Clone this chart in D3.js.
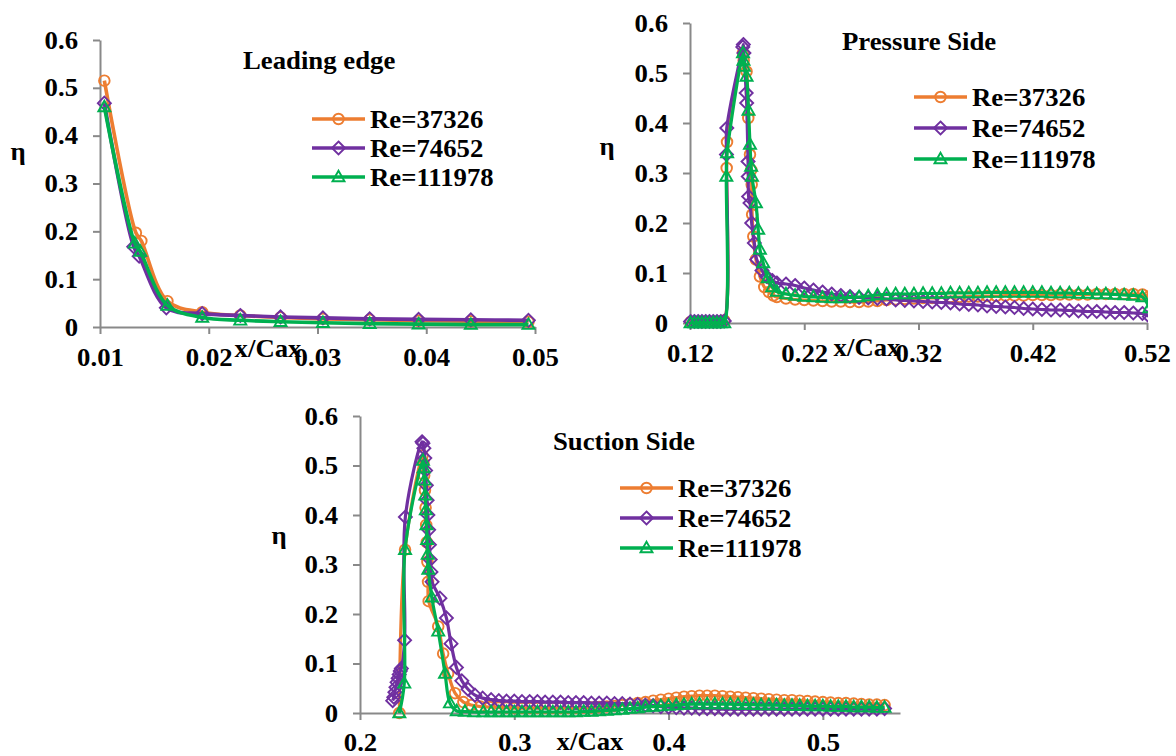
<!DOCTYPE html>
<html>
<head>
<meta charset="utf-8">
<script src="https://cdn.jsdelivr.net/npm/d3@7"></script>
<style>
  html, body { margin: 0; padding: 0; background: #fff; }
  svg { display: block; }
  svg text {
    font-family: "Liberation Serif", "Tinos", "Times New Roman", Times, "DejaVu Serif", serif;
    font-weight: bold;
    font-size: 25px;
  }
</style>
</head>
<body>
<svg id="fig" width="1176" height="756"></svg>
<script>
// ---------------- data ----------------
const seriesNames = ["Re=37326", "Re=74652", "Re=111978"];

const etaTicks = [0, 0.1, 0.2, 0.3, 0.4, 0.5, 0.6];
const etaTickText = ["0", "0.1", "0.2", "0.3", "0.4", "0.5", "0.6"];

// Leading edge
const leTicks = [0.01, 0.02, 0.03, 0.04, 0.05];
const leTickText = ["0.01", "0.02", "0.03", "0.04", "0.05"];
const leX37326  = [0.0104, 0.0133, 0.0138, 0.0162, 0.0194, 0.0229, 0.0266, 0.0305, 0.0348, 0.0393, 0.0441, 0.0494];
const leY37326  = [0.515, 0.197, 0.180, 0.054, 0.031, 0.024, 0.020, 0.017, 0.015, 0.013, 0.012, 0.011];
const leX74652  = [0.0104, 0.0131, 0.0136, 0.0161, 0.0194, 0.0229, 0.0266, 0.0305, 0.0348, 0.0393, 0.0441, 0.0494];
const leY74652  = [0.468, 0.168, 0.148, 0.040, 0.028, 0.024, 0.021, 0.019, 0.017, 0.016, 0.015, 0.014];
const leX111978 = [0.0104, 0.0132, 0.0137, 0.0162, 0.0194, 0.0229, 0.0266, 0.0305, 0.0348, 0.0393, 0.0441, 0.0494];
const leY111978 = [0.460, 0.175, 0.158, 0.045, 0.020, 0.014, 0.011, 0.009, 0.007, 0.006, 0.005, 0.005];

// Pressure side
const psTicks = [0.12, 0.22, 0.32, 0.42, 0.52];
const psTickText = ["0.12", "0.22", "0.32", "0.42", "0.52"];
const psLowX = [0.1205, 0.1238, 0.1271, 0.1304, 0.1337, 0.1370, 0.1403, 0.1436, 0.1469, 0.1500];
const psLowY37326  = [0.002, 0.002, 0.002, 0.002, 0.002, 0.002, 0.002, 0.002, 0.003, 0.005];
const psLowY74652  = [0.003, 0.003, 0.003, 0.003, 0.003, 0.003, 0.003, 0.003, 0.003, 0.004];
const psLowY111978 = [0.000, 0.000, 0.000, 0.000, 0.000, 0.000, 0.000, 0.000, 0.000, 0.000];

const psPeakX37326  = [0.1521, 0.1524, 0.1664, 0.1670, 0.1695, 0.1710, 0.1725, 0.1736, 0.1740, 0.1744, 0.1754, 0.1777, 0.1812, 0.1850, 0.1890, 0.1930];
const psPeakY37326  = [0.310, 0.362, 0.540, 0.525, 0.503, 0.410, 0.337, 0.306, 0.277, 0.217, 0.173, 0.127, 0.093, 0.072, 0.062, 0.055];
const psPeakX74652  = [0.1519, 0.1522, 0.1662, 0.1667, 0.1672, 0.1692, 0.1696, 0.1708, 0.1710, 0.1713, 0.1725, 0.1740, 0.1763, 0.1784, 0.1830, 0.1871, 0.1920];
const psPeakY74652  = [0.337, 0.390, 0.552, 0.557, 0.540, 0.460, 0.440, 0.323, 0.293, 0.253, 0.240, 0.200, 0.160, 0.127, 0.105, 0.093, 0.085];
const psPeakX111978 = [0.1518, 0.1525, 0.1664, 0.1668, 0.1672, 0.1695, 0.1712, 0.1725, 0.1735, 0.1742, 0.1777, 0.1797, 0.1812, 0.1841, 0.1880, 0.1920];
const psPeakY111978 = [0.293, 0.340, 0.540, 0.525, 0.513, 0.493, 0.425, 0.357, 0.313, 0.293, 0.240, 0.187, 0.147, 0.120, 0.090, 0.072];

const psTailX = [0.196, 0.204, 0.212, 0.220, 0.228, 0.236, 0.244, 0.252, 0.260, 0.268, 0.276, 0.284, 0.292, 0.300,
                 0.308, 0.316, 0.324, 0.332, 0.340, 0.348, 0.356, 0.364, 0.372, 0.380, 0.388, 0.396, 0.404, 0.412,
                 0.420, 0.428, 0.436, 0.444, 0.452, 0.460, 0.468, 0.476, 0.484, 0.492, 0.500, 0.508, 0.516, 0.522];
const psTailY37326  = [0.052, 0.049, 0.047, 0.046, 0.045, 0.044, 0.043, 0.043, 0.042, 0.042, 0.043, 0.044, 0.046, 0.047,
                       0.048, 0.049, 0.050, 0.050, 0.051, 0.052, 0.052, 0.053, 0.053, 0.054, 0.054, 0.055, 0.055, 0.055,
                       0.056, 0.056, 0.056, 0.057, 0.057, 0.057, 0.057, 0.058, 0.058, 0.058, 0.058, 0.058, 0.057, 0.053];
const psTailY74652  = [0.080, 0.078, 0.075, 0.070, 0.066, 0.062, 0.058, 0.055, 0.053, 0.051, 0.050, 0.049, 0.048, 0.046,
                       0.045, 0.044, 0.043, 0.042, 0.041, 0.040, 0.038, 0.037, 0.036, 0.034, 0.033, 0.032, 0.031, 0.029,
                       0.028, 0.027, 0.026, 0.026, 0.025, 0.024, 0.023, 0.023, 0.022, 0.021, 0.021, 0.020, 0.019, 0.013];
const psTailY111978 = [0.063, 0.058, 0.055, 0.053, 0.052, 0.051, 0.050, 0.050, 0.051, 0.052, 0.054, 0.056, 0.057, 0.058,
                       0.058, 0.058, 0.059, 0.059, 0.059, 0.060, 0.060, 0.060, 0.060, 0.061, 0.061, 0.061, 0.061, 0.061,
                       0.061, 0.061, 0.060, 0.060, 0.060, 0.059, 0.059, 0.058, 0.058, 0.057, 0.056, 0.055, 0.052, 0.030];

// Suction side
const ssTicks = [0.2, 0.3, 0.4, 0.5];
const ssTickText = ["0.2", "0.3", "0.4", "0.5"];
const ssPeakX37326  = [0.2255, 0.2292, 0.2405, 0.2411, 0.2416, 0.2421, 0.2425, 0.2429, 0.2433, 0.2437, 0.2441, 0.2445,
                       0.2507, 0.2539, 0.2571, 0.2616, 0.2670, 0.2720, 0.2780, 0.2840];
const ssPeakY37326  = [0.000, 0.330, 0.520, 0.505, 0.480, 0.450, 0.415, 0.380, 0.345, 0.305, 0.265, 0.226,
                       0.175, 0.120, 0.080, 0.040, 0.022, 0.016, 0.013, 0.012];
const ssPeakX74652  = [0.2212, 0.2219, 0.2226, 0.2233, 0.2240, 0.2247, 0.2254, 0.2261, 0.2268, 0.2289, 0.2294,
                       0.2402, 0.2408, 0.2414, 0.2420, 0.2425, 0.2430, 0.2435, 0.2440, 0.2445, 0.2450, 0.2455, 0.2460, 0.2467,
                       0.2518, 0.2560, 0.2590, 0.2625, 0.2660, 0.2700, 0.2745, 0.2795, 0.2850];
const ssPeakY74652  = [0.025, 0.032, 0.042, 0.052, 0.062, 0.070, 0.078, 0.085, 0.090, 0.147, 0.396,
                       0.548, 0.545, 0.535, 0.515, 0.490, 0.460, 0.430, 0.400, 0.370, 0.340, 0.310, 0.285, 0.265,
                       0.232, 0.192, 0.140, 0.092, 0.065, 0.048, 0.036, 0.030, 0.027];
const ssPeakX111978 = [0.2255, 0.2287, 0.2292, 0.2408, 0.2413, 0.2418, 0.2423, 0.2427, 0.2431, 0.2435, 0.2439, 0.2443,
                       0.2465, 0.2507, 0.2551, 0.2583, 0.2627, 0.2680, 0.2740, 0.2800, 0.2850];
const ssPeakY111978 = [0.000, 0.060, 0.330, 0.510, 0.495, 0.470, 0.440, 0.410, 0.380, 0.350, 0.320, 0.290,
                       0.234, 0.165, 0.080, 0.020, 0.004, 0.003, 0.002, 0.002, 0.002];

const ssTailX = [0.290, 0.295, 0.300, 0.305, 0.310, 0.315, 0.320, 0.325, 0.330, 0.335, 0.340, 0.345, 0.350,
                 0.355, 0.360, 0.365, 0.370, 0.375, 0.380, 0.385, 0.390, 0.395, 0.400, 0.405, 0.410, 0.415,
                 0.420, 0.425, 0.430, 0.435, 0.440, 0.445, 0.450, 0.455, 0.460, 0.465, 0.470, 0.475, 0.480,
                 0.485, 0.490, 0.495, 0.500, 0.505, 0.510, 0.515, 0.520, 0.525, 0.530, 0.535, 0.540];
const ssTailY37326  = [0.011, 0.011, 0.010, 0.010, 0.010, 0.010, 0.010, 0.010, 0.010, 0.010, 0.010, 0.011, 0.011,
                       0.012, 0.013, 0.014, 0.016, 0.018, 0.020, 0.022, 0.025, 0.027, 0.029, 0.031, 0.033, 0.034,
                       0.035, 0.035, 0.035, 0.034, 0.033, 0.032, 0.031, 0.030, 0.029, 0.028, 0.027, 0.026, 0.026,
                       0.025, 0.024, 0.023, 0.022, 0.021, 0.020, 0.020, 0.019, 0.018, 0.017, 0.017, 0.016];
const ssTailY74652  = [0.025, 0.024, 0.024, 0.023, 0.023, 0.023, 0.022, 0.022, 0.022, 0.021, 0.021, 0.021, 0.020,
                       0.020, 0.020, 0.019, 0.019, 0.018, 0.017, 0.016, 0.015, 0.013, 0.012, 0.011, 0.010, 0.010,
                       0.009, 0.009, 0.009, 0.008, 0.008, 0.008, 0.008, 0.008, 0.008, 0.008, 0.008, 0.008, 0.008,
                       0.008, 0.008, 0.008, 0.008, 0.008, 0.008, 0.008, 0.008, 0.008, 0.008, 0.008, 0.009];
const ssTailY111978 = [0.002, 0.002, 0.002, 0.002, 0.002, 0.002, 0.002, 0.002, 0.002, 0.002, 0.002, 0.003, 0.003,
                       0.004, 0.005, 0.006, 0.007, 0.009, 0.010, 0.012, 0.013, 0.014, 0.015, 0.016, 0.017, 0.018,
                       0.018, 0.018, 0.018, 0.018, 0.018, 0.017, 0.017, 0.017, 0.016, 0.016, 0.016, 0.015, 0.015,
                       0.015, 0.014, 0.014, 0.014, 0.013, 0.013, 0.013, 0.012, 0.012, 0.012, 0.011, 0.011];

// ---------------- styling / layout ----------------
const colors = ["#ED7D31", "#7030A0", "#00B050"];
const shapes = ["circle", "diamond", "triangle"];
const SX = 1.07;            // horizontal glyph stretch for labels
const AXIS_COLOR = "#898989";

const zip = (xs, ys) => xs.map((v, i) => [v, ys[i]]);

const panels = [
  {
    title: "Leading edge", titleAt: [243, 69],
    xDomain: [0.01, 0.05], xRange: [100, 535], yRange: [327, 40],
    ticks: leTicks, tickText: leTickText,
    xTitleAt: [268, 357], etaAt: [18, 160],
    legendAt: [312, 119], legendStep: 29, lineW: 3.6,
    series: [
      zip(leX37326, leY37326),
      zip(leX74652, leY74652),
      zip(leX111978, leY111978)
    ]
  },
  {
    title: "Pressure Side", titleAt: [842, 50],
    xDomain: [0.12, 0.52], xRange: [690, 1147], yRange: [323, 23],
    ticks: psTicks, tickText: psTickText,
    xTitleAt: [867, 356], etaAt: [607, 155],
    legendAt: [914, 97], legendStep: 31, lineW: 3.2,
    series: [
      zip(psLowX.concat(psPeakX37326, psTailX), psLowY37326.concat(psPeakY37326, psTailY37326)),
      zip(psLowX.concat(psPeakX74652, psTailX), psLowY74652.concat(psPeakY74652, psTailY74652)),
      zip(psLowX.concat(psPeakX111978, psTailX), psLowY111978.concat(psPeakY111978, psTailY111978))
    ]
  },
  {
    title: "Suction Side", titleAt: [553, 450],
    xDomain: [0.2, 0.55], xRange: [360, 900], yRange: [713, 416],
    ticks: ssTicks, tickText: ssTickText,
    xTitleAt: [590, 750], etaAt: [279, 544],
    legendAt: [620, 488], legendStep: 30, lineW: 3.2,
    series: [
      zip(ssPeakX37326.concat(ssTailX), ssPeakY37326.concat(ssTailY37326)),
      zip(ssPeakX74652.concat(ssTailX), ssPeakY74652.concat(ssTailY74652)),
      zip(ssPeakX111978.concat(ssTailX), ssPeakY111978.concat(ssTailY111978))
    ]
  }
];

// ---------------- drawing ----------------
const svg = d3.select("#fig");

svg.append("rect").attr("width", 1176).attr("height", 756).attr("fill", "#fff");

function label(parent, x, y, s, anchor) {
  return parent.append("text")
    .attr("transform", `translate(${x},${y}) scale(${SX},1)`)
    .attr("text-anchor", anchor || "start")
    .attr("fill", "#000")
    .text(s);
}

const markerPath = {
  circle: "M5.3,0A5.3,5.3 0 1,1 -5.3,0A5.3,5.3 0 1,1 5.3,0Z",
  diamond: "M0,-6.5L6.5,0L0,6.5L-6.5,0Z",
  triangle: "M0,-6.3L6,4.3L-6,4.3Z"
};

function drawMarkers(parent, pts, shape, color) {
  parent.append("g")
    .selectAll("path")
    .data(pts)
    .join("path")
    .attr("transform", d => `translate(${d[0]},${d[1]})`)
    .attr("d", markerPath[shape])
    .attr("fill", "none")
    .attr("stroke", color)
    .attr("stroke-width", 1.9);
}

panels.forEach((p, pi) => {
  const g = svg.append("g");
  const x = d3.scaleLinear().domain(p.xDomain).range(p.xRange);
  const y = d3.scaleLinear().domain([0, 0.6]).range(p.yRange);

  // axes
  const xAxis = g.append("g")
    .attr("transform", `translate(0,${p.yRange[0]})`)
    .call(d3.axisBottom(x).tickValues(p.ticks)
      .tickFormat((d, i) => p.tickText[i]).tickSize(7).tickSizeOuter(0));
  const yAxis = g.append("g")
    .attr("transform", `translate(${p.xRange[0]},0)`)
    .call(d3.axisLeft(y).tickValues(etaTicks)
      .tickFormat((d, i) => etaTickText[i]).tickSize(7).tickSizeOuter(0));

  [xAxis, yAxis].forEach(a => {
    a.attr("font-family", null).attr("font-size", null);
    a.selectAll(".domain, .tick line")
      .attr("stroke", AXIS_COLOR).attr("stroke-width", 2);
    a.selectAll("text").attr("fill", "#000");
  });
  xAxis.selectAll("text")
    .attr("y", p.yRange[0] > 700 ? 38 : 39).attr("dy", null)
    .attr("transform", `scale(${SX},1)`);
  yAxis.selectAll("text")
    .attr("x", -22 / SX).attr("dy", "0.32em")
    .attr("transform", `scale(${SX},1)`);

  // clip curves at the right edge of the plot area
  const clipId = "plotclip" + pi;
  svg.append("clipPath").attr("id", clipId)
    .append("rect")
    .attr("x", p.xRange[0] - 30).attr("y", 0)
    .attr("width", p.xRange[1] - p.xRange[0] + 31).attr("height", 756);

  const plot = g.append("g").attr("clip-path", `url(#${clipId})`);
  const line = d3.line()
    .x(d => x(d[0])).y(d => y(d[1]))
    .curve(d3.curveCatmullRom.alpha(0.5));

  p.series.forEach((pts, si) => {
    plot.append("path")
      .datum(pts)
      .attr("d", line)
      .attr("fill", "none")
      .attr("stroke", colors[si])
      .attr("stroke-width", p.lineW)
      .attr("stroke-linejoin", "round");
    drawMarkers(plot, pts.map(d => [x(d[0]), y(d[1])]), shapes[si], colors[si]);
  });

  // texts
  label(g, p.titleAt[0], p.titleAt[1], p.title, "start");
  label(g, p.xTitleAt[0], p.xTitleAt[1], "x/Cax", "middle");
  label(g, p.etaAt[0], p.etaAt[1], "η", "middle");

  // legend
  const lg = g.append("g");
  seriesNames.forEach((name, si) => {
    const ly = p.legendAt[1] + si * p.legendStep;
    const lx = p.legendAt[0];
    lg.append("line")
      .attr("x1", lx).attr("x2", lx + 53)
      .attr("y1", ly).attr("y2", ly)
      .attr("stroke", colors[si]).attr("stroke-width", 3.4);
    drawMarkers(lg, [[lx + 26.5, ly]], shapes[si], colors[si]);
    label(lg, lx + 58, ly + 8.5, name, "start");
  });
});
</script>
</body>
</html>
